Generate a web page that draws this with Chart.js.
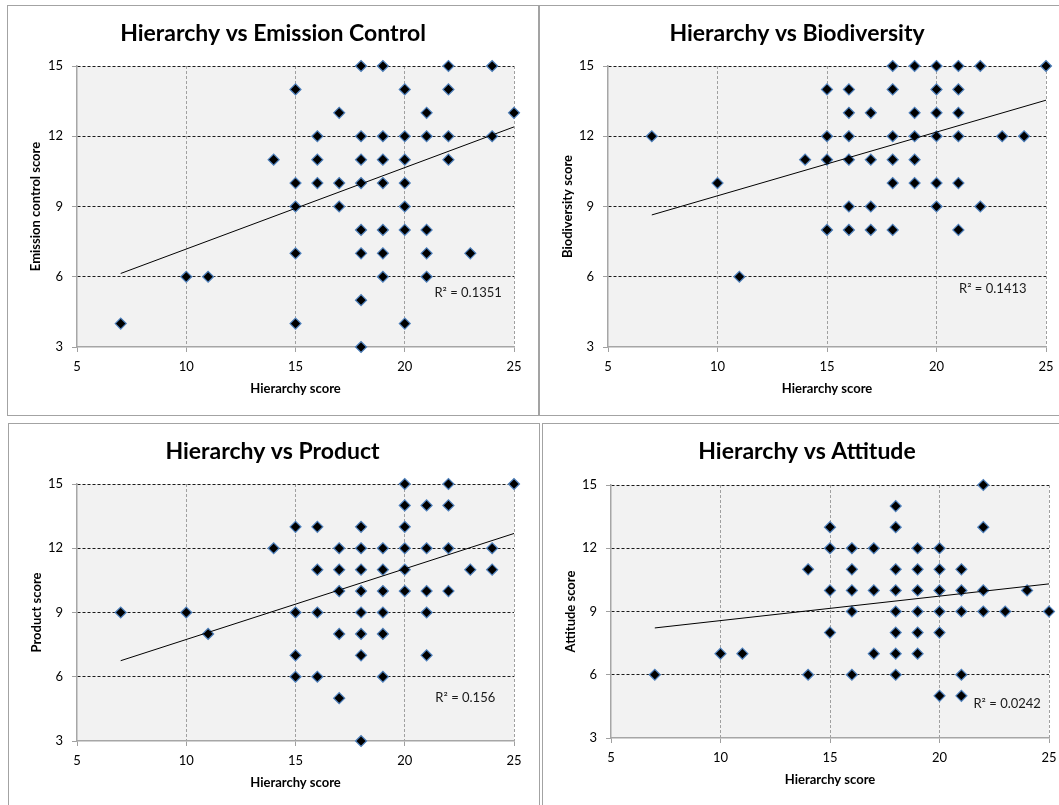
<!DOCTYPE html>
<html>
<head>
<meta charset="utf-8">
<title>Hierarchy scatter plots</title>
<script src="https://cdn.jsdelivr.net/npm/chart.js@4.4.1/dist/chart.umd.min.js"></script>
<style>
  html, body { margin: 0; padding: 0; background: #fff; width: 1059px; height: 805px; overflow: hidden; }
  .panel { position: absolute; background: #fff; border: 1px solid #a3a3a3; box-sizing: content-box; }
  .panel canvas { display: block; }
</style>
</head>
<body>
<div class="panel" style="left:7px;top:5px;width:530px;height:409px;"><canvas id="chartEmission" width="530" height="409"></canvas></div>
<div class="panel" style="left:539px;top:5px;width:530px;height:409px;"><canvas id="chartBiodiversity" width="514" height="409"></canvas></div>
<div class="panel" style="left:8px;top:423px;width:530px;height:385px;"><canvas id="chartProduct" width="527" height="385"></canvas></div>
<div class="panel" style="left:542px;top:423px;width:530px;height:385px;"><canvas id="chartAttitude" width="528" height="382"></canvas></div>

<script>
// axis ticks (same on all four charts)
const xTicks = [5, 10, 15, 20, 25];
const yTicks = [3, 6, 9, 12, 15];

// trendline end points (x)
const trendX = [7, 25];

// Hierarchy vs Emission Control
const emissionHierarchy = [18, 19, 22, 24, 15, 20, 22, 17, 21, 25, 16, 18, 19, 20, 21, 22, 24, 14, 16, 18, 19, 20, 22, 15, 16, 17, 18, 19, 20, 15, 17, 20, 18, 19, 20, 21, 15, 18, 19, 21, 23, 10, 11, 19, 21, 18, 7, 15, 20, 18];
const emissionScore = [15, 15, 15, 15, 14, 14, 14, 13, 13, 13, 12, 12, 12, 12, 12, 12, 12, 11, 11, 11, 11, 11, 11, 10, 10, 10, 10, 10, 10, 9, 9, 9, 8, 8, 8, 8, 7, 7, 7, 7, 7, 6, 6, 6, 6, 5, 4, 4, 4, 3];
const emissionTrend = [6.14, 12.4];

// Hierarchy vs Biodiversity
const biodiversityHierarchy = [18, 19, 20, 21, 22, 25, 15, 16, 18, 20, 21, 16, 17, 19, 20, 21, 7, 15, 16, 18, 19, 20, 21, 23, 24, 14, 15, 16, 17, 18, 19, 10, 18, 19, 20, 21, 16, 17, 20, 22, 15, 16, 17, 18, 21, 11];
const biodiversityScore = [15, 15, 15, 15, 15, 15, 14, 14, 14, 14, 14, 13, 13, 13, 13, 13, 12, 12, 12, 12, 12, 12, 12, 12, 12, 11, 11, 11, 11, 11, 11, 10, 10, 10, 10, 10, 9, 9, 9, 9, 8, 8, 8, 8, 8, 6];
const biodiversityTrend = [8.64, 13.54];

// Hierarchy vs Product
const productHierarchy = [20, 22, 25, 20, 21, 22, 15, 16, 18, 20, 14, 17, 18, 19, 20, 21, 22, 24, 16, 17, 18, 19, 20, 23, 24, 17, 18, 19, 20, 21, 22, 7, 10, 15, 16, 18, 19, 21, 11, 17, 18, 19, 15, 18, 21, 15, 16, 19, 17, 18];
const productScore = [15, 15, 15, 14, 14, 14, 13, 13, 13, 13, 12, 12, 12, 12, 12, 12, 12, 12, 11, 11, 11, 11, 11, 11, 11, 10, 10, 10, 10, 10, 10, 9, 9, 9, 9, 9, 9, 9, 8, 8, 8, 8, 7, 7, 7, 6, 6, 6, 5, 3];
const productTrend = [6.75, 12.69];

// Hierarchy vs Attitude
const attitudeHierarchy = [22, 18, 15, 18, 22, 15, 16, 17, 19, 20, 14, 16, 18, 19, 20, 21, 15, 16, 17, 18, 19, 20, 21, 22, 24, 16, 18, 19, 20, 21, 22, 23, 25, 15, 18, 19, 20, 10, 11, 17, 18, 19, 7, 14, 16, 18, 21, 20, 21];
const attitudeScore = [15, 14, 13, 13, 13, 12, 12, 12, 12, 12, 11, 11, 11, 11, 11, 11, 10, 10, 10, 10, 10, 10, 10, 10, 10, 9, 9, 9, 9, 9, 9, 9, 9, 8, 8, 8, 8, 7, 7, 7, 7, 7, 6, 6, 6, 6, 6, 5, 5];
const attitudeTrend = [8.22, 10.31];

Chart.defaults.font.family = 'Lato, "Open Sans", sans-serif';
Chart.defaults.color = '#000';

// plot background, chart title and the R² label
const panelDecor = {
    id: 'panelDecor',
    beforeDraw(chart) {
        const { ctx, chartArea: a } = chart;
        ctx.save();
        ctx.fillStyle = '#ffffff';
        ctx.fillRect(0, 0, chart.width, chart.height);
        ctx.fillStyle = '#f2f2f2';
        ctx.fillRect(a.left, a.top, a.right - a.left, a.bottom - a.top);
        ctx.restore();
    },
    afterDraw(chart, args, opts) {
        const { ctx, scales } = chart;
        ctx.save();
        ctx.fillStyle = '#000';
        ctx.textAlign = 'center';
        ctx.textBaseline = 'middle';
        ctx.font = 'bold 23px Lato';
        ctx.fillText(opts.title, chart.width / 2, 28);
        ctx.font = '13px Lato';
        ctx.fillStyle = '#1a1a1a';
        ctx.fillText(opts.r2, scales.x.getPixelForValue(opts.r2At[0]), scales.y.getPixelForValue(opts.r2At[1]));
        ctx.restore();
    }
};

window.createScatter = (canvasId, cfg) => {
    const ctx = document.getElementById(canvasId).getContext('2d');
    const points = cfg.xs.map((x, i) => ({ x: x, y: cfg.ys[i] }));
    const trend = trendX.map((x, i) => ({ x: x, y: cfg.trend[i] }));

    return new Chart(ctx, {
        type: 'scatter',
        data: {
            datasets: [{
                data: trend,
                showLine: true,
                borderColor: '#000',
                borderWidth: 1,
                pointRadius: 0,
                clip: false
            }, {
                data: points,
                pointStyle: 'rectRot',
                pointRadius: 5.5,
                pointHoverRadius: 5.5,
                pointBackgroundColor: '#000',
                pointBorderColor: '#4f81bd',
                pointBorderWidth: 1.2,
                clip: false
            }]
        },
        options: {
            responsive: false,
            animation: false,
            devicePixelRatio: 1,
            layout: {
                padding: { left: 0, right: cfg.padRight, top: cfg.plotTop, bottom: 0 }
            },
            scales: {
                x: {
                    type: 'linear',
                    min: xTicks[0],
                    max: xTicks[xTicks.length - 1],
                    afterBuildTicks: (s) => { s.ticks = xTicks.map(v => ({ value: v })); },
                    afterFit: (s) => { s.height = 68; s.paddingLeft = 0; s.paddingRight = 0; },
                    ticks: { padding: 7, font: { size: 13 } },
                    grid: {
                        color: (c) => (c.tick && c.tick.value === xTicks[0]) ? 'rgba(0,0,0,0)' : '#a0a0a0',
                        lineWidth: 1,
                        tickLength: 5,
                        tickColor: '#a0a0a0'
                    },
                    border: { color: '#a6a6a6', width: 1.5, dash: [3, 2] },
                    title: {
                        display: true,
                        text: 'Hierarchy score',
                        font: { size: 13, weight: 'bold', lineHeight: 1.2 },
                        padding: { top: 0, bottom: 18.2 }
                    }
                },
                y: {
                    type: 'linear',
                    min: yTicks[0],
                    max: yTicks[yTicks.length - 1],
                    afterBuildTicks: (s) => { s.ticks = yTicks.map(v => ({ value: v })); },
                    afterFit: (s) => { s.width = cfg.axisWidth; s.paddingTop = 0; s.paddingBottom = 0; },
                    ticks: { padding: 9, font: { size: 13 } },
                    grid: {
                        color: (c) => (c.tick && c.tick.value === yTicks[0]) ? 'rgba(0,0,0,0)' : '#1a1a1a',
                        lineWidth: 1,
                        tickLength: 5,
                        tickColor: '#a0a0a0'
                    },
                    border: { color: '#a6a6a6', width: 1.5, dash: [3, 2] },
                    title: {
                        display: true,
                        text: cfg.yTitle,
                        font: { size: 13, weight: 'bold', lineHeight: 1.2 },
                        padding: { top: 19.7, bottom: 0 }
                    }
                }
            },
            plugins: {
                legend: { display: false },
                title: { display: false },
                tooltip: { enabled: false },
                panelDecor: { title: cfg.title, r2: cfg.r2, r2At: cfg.r2At }
            }
        },
        plugins: [panelDecor]
    });
};

createScatter('chartEmission', {
    title: 'Hierarchy vs Emission Control', yTitle: 'Emission control score',
    xs: emissionHierarchy, ys: emissionScore, trend: emissionTrend,
    r2: 'R² = 0.1351', r2At: [22.9, 5.31],
    axisWidth: 69, padRight: 24, plotTop: 60
});
createScatter('chartBiodiversity', {
    title: 'Hierarchy vs Biodiversity', yTitle: 'Biodiversity score',
    xs: biodiversityHierarchy, ys: biodiversityScore, trend: biodiversityTrend,
    r2: 'R² = 0.1413', r2At: [22.57, 5.47],
    axisWidth: 68, padRight: 8, plotTop: 60
});
createScatter('chartProduct', {
    title: 'Hierarchy vs Product', yTitle: 'Product score',
    xs: productHierarchy, ys: productScore, trend: productTrend,
    r2: 'R² = 0.156', r2At: [22.77, 5.02],
    axisWidth: 68, padRight: 22, plotTop: 60
});
createScatter('chartAttitude', {
    title: 'Hierarchy vs Attitude', yTitle: 'Attitude score',
    xs: attitudeHierarchy, ys: attitudeScore, trend: attitudeTrend,
    r2: 'R² = 0.0242', r2At: [23.09, 4.64],
    axisWidth: 68, padRight: 22, plotTop: 61
});
</script>
</body>
</html>
